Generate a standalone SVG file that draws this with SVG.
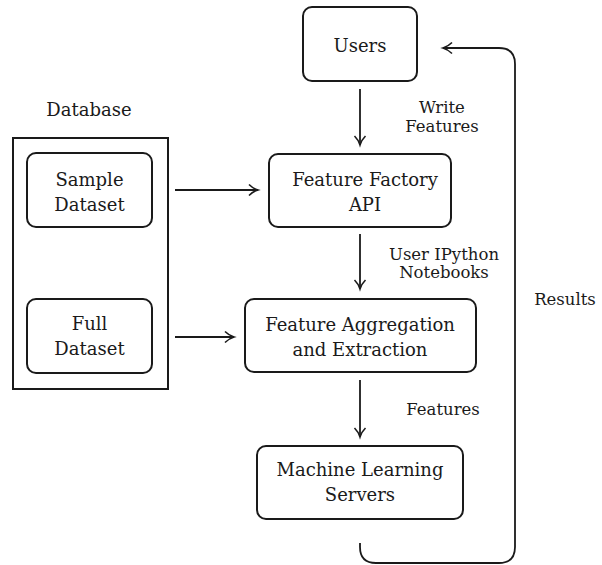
<svg xmlns="http://www.w3.org/2000/svg" width="602" height="565" viewBox="0 0 602 565">
<style>
.box{fill:#fff;stroke:#1a1a1a;stroke-width:2}
.t{font-family:"DejaVu Serif",serif;font-size:18px;fill:#1a1a1a;text-anchor:middle}
.s{font-family:"DejaVu Serif",serif;font-size:16.5px;fill:#1a1a1a;text-anchor:middle}
.c{fill:none;stroke:#1a1a1a;stroke-width:1.8}
</style>
<defs>
<marker id="ah" markerWidth="14" markerHeight="14" refX="11" refY="7" orient="auto" markerUnits="userSpaceOnUse">
<path d="M2,1.5 Q6,5.5 11,7 Q6,8.5 2,12.5" fill="none" stroke="#1a1a1a" stroke-width="1.6"/>
</marker>
</defs>
<g id="database">
<rect x="13" y="138" width="155" height="251" fill="none" stroke="#1a1a1a" stroke-width="2"/>
<text class="t" x="89" y="116">Database</text>
</g>
<g id="sample">
<rect class="box" x="27" y="153" width="125" height="74" rx="9"/>
<text class="t" x="89.5" y="186">Sample</text>
<text class="t" x="89.5" y="211">Dataset</text>
</g>
<g id="full">
<rect class="box" x="27" y="299" width="125" height="74" rx="9"/>
<text class="t" x="89.5" y="330">Full</text>
<text class="t" x="89.5" y="355">Dataset</text>
</g>
<g id="users">
<rect class="box" x="303" y="7" width="114" height="74" rx="9"/>
<text class="t" x="360" y="52">Users</text>
</g>
<g id="ffapi">
<rect class="box" x="269" y="154" width="182" height="73" rx="9"/>
<text class="t" x="365" y="186">Feature Factory</text>
<text class="t" x="365" y="211">API</text>
</g>
<g id="fae">
<rect class="box" x="245" y="299" width="231" height="73" rx="9"/>
<text class="t" x="360" y="331">Feature Aggregation</text>
<text class="t" x="360" y="356">and Extraction</text>
</g>
<g id="mls">
<rect class="box" x="257" y="446" width="206" height="73" rx="9"/>
<text class="t" x="360" y="476">Machine Learning</text>
<text class="t" x="360" y="501">Servers</text>
</g>
<g id="connectors">
<line class="c" x1="360" y1="89" x2="360" y2="145" marker-end="url(#ah)"/>
<line class="c" x1="175" y1="190" x2="258" y2="190" marker-end="url(#ah)"/>
<line class="c" x1="360" y1="234" x2="360" y2="289" marker-end="url(#ah)"/>
<line class="c" x1="175" y1="337" x2="234" y2="337" marker-end="url(#ah)"/>
<line class="c" x1="360" y1="380" x2="360" y2="437" marker-end="url(#ah)"/>
<path class="c" d="M360,543 L360,547 Q360,563 376,563 L499,563 Q515,563 515,547 L515,64 Q515,48 499,48 L443,48" marker-end="url(#ah)"/>
<text class="s" x="442" y="113">Write</text>
<text class="s" x="442" y="132">Features</text>
<text class="s" x="444" y="260">User IPython</text>
<text class="s" x="444" y="278">Notebooks</text>
<text class="s" x="443" y="415">Features</text>
<text class="s" x="565" y="305">Results</text>
</g>
</svg>
